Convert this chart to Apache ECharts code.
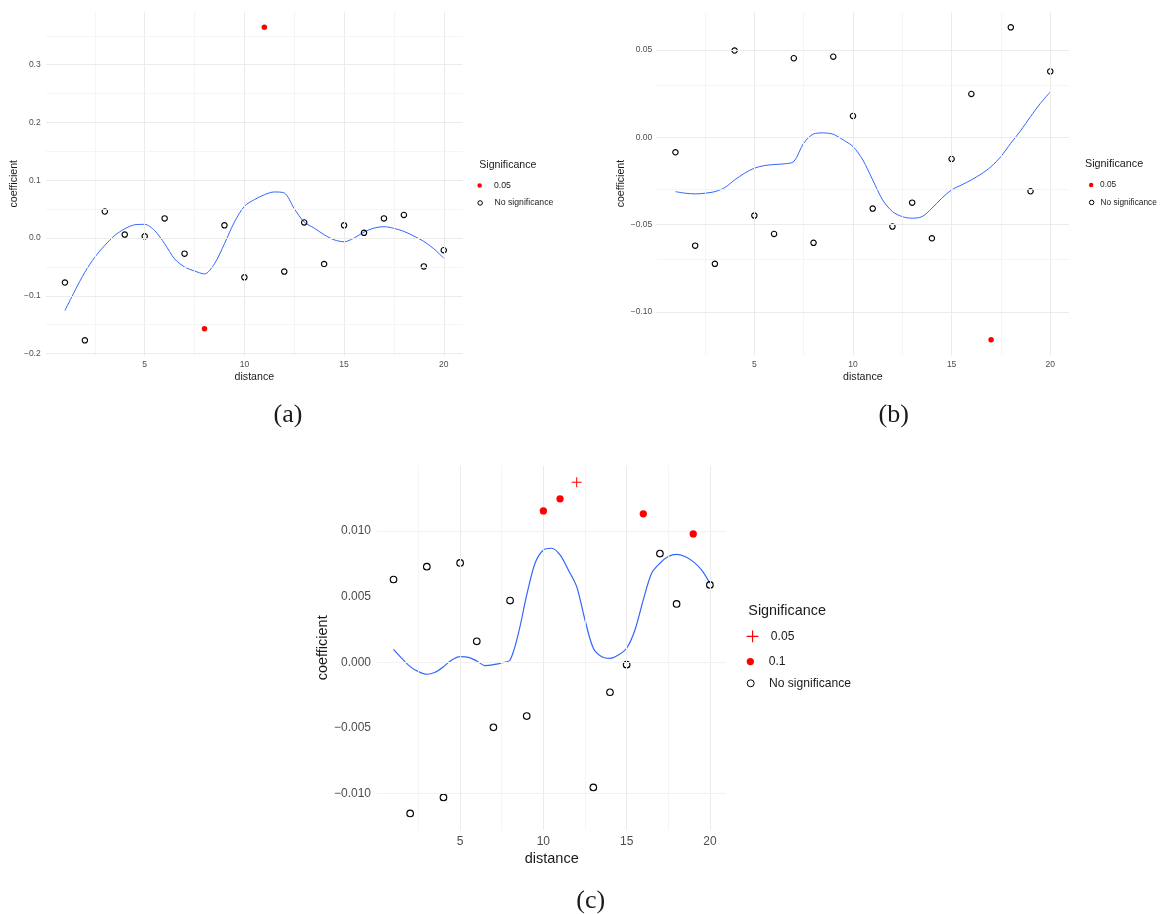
<!DOCTYPE html>
<html>
<head>
<meta charset="utf-8">
<script src="https://cdn.jsdelivr.net/npm/echarts@6/dist/echarts.min.js"></script>
<style>
  html, body { margin: 0; padding: 0; background: #ffffff; }
  #chart { width: 1168px; height: 914px; }
</style>
</head>
<body>
<div id="chart"></div>
<script>
// ---- data -------------------------------------------------------------
const distance = [1, 2, 3, 4, 5, 6, 7, 8, 9, 10, 11, 12, 13, 14, 15, 16, 17, 18, 19, 20];

// panel (a)
const coefA = [-0.077, -0.177, 0.046, 0.006, 0.003, 0.034, -0.027, -0.157, 0.022, -0.068,
               0.365, -0.058, 0.027, -0.045, 0.022, 0.009, 0.034, 0.040, -0.049, -0.021];
const sigA = ['No significance', 'No significance', 'No significance', 'No significance', 'No significance',
              'No significance', 'No significance', '0.05', 'No significance', 'No significance',
              '0.05', 'No significance', 'No significance', 'No significance', 'No significance',
              'No significance', 'No significance', 'No significance', 'No significance', 'No significance'];

// panel (b)
const coefB = [-0.0086, -0.0620, -0.0724, 0.0496, -0.0448, -0.0553, 0.0452, -0.0604, 0.0461, 0.0122,
               -0.0408, -0.0511, -0.0374, -0.0578, -0.0124, 0.0248, -0.1159, 0.0629, -0.0309, 0.0377];
const sigB = ['No significance', 'No significance', 'No significance', 'No significance', 'No significance',
              'No significance', 'No significance', 'No significance', 'No significance', 'No significance',
              'No significance', 'No significance', 'No significance', 'No significance', 'No significance',
              'No significance', '0.05', 'No significance', 'No significance', 'No significance'];

// panel (c)
const coefC = [0.0063, -0.0115, 0.00728, -0.01028, 0.00756, 0.0016, -0.00495, 0.0047, -0.00409, 0.01152,
               0.01244, 0.0137, -0.00952, -0.00228, -0.00018, 0.0113, 0.00827, 0.00444, 0.00977, 0.00589];
const sigC = ['No significance', 'No significance', 'No significance', 'No significance', 'No significance',
              'No significance', 'No significance', 'No significance', 'No significance', '0.1',
              '0.1', '0.05', 'No significance', 'No significance', 'No significance',
              '0.1', 'No significance', 'No significance', '0.1', 'No significance'];

// smoothed trend, evaluated every half unit of distance
const smoothX = [1, 1.5, 2, 2.5, 3, 3.5, 4, 4.5, 5, 5.5, 6, 6.5, 7, 7.5, 8, 8.5, 9, 9.5, 10, 10.5,
                 11, 11.5, 12, 12.5, 13, 13.5, 14, 14.5, 15, 15.5, 16, 16.5, 17, 17.5, 18, 18.5, 19, 19.5, 20];
const smoothA = [-0.1254, -0.091, -0.059, -0.033, -0.0127, 0.0046, 0.016, 0.023, 0.0237, 0.013,
                 -0.0098, -0.036, -0.05, -0.057, -0.062, -0.0445, -0.0098, 0.0277, 0.055, 0.0665,
                 0.075, 0.0798, 0.078, 0.051, 0.0277, 0.0173, 0.0058, -0.003, -0.0064, 0,
                 0.0104, 0.0173, 0.0197, 0.0168, 0.0116, 0.0035, -0.0058, -0.0185, -0.0347];
const smoothB = [-0.0311, -0.032, -0.0324, -0.032, -0.0311, -0.0288, -0.0244, -0.0206, -0.0177, -0.0162,
                 -0.0156, -0.0152, -0.0139, -0.0034, 0.0019, 0.0025, 0.0017, -0.0015, -0.0053, -0.013,
                 -0.0244, -0.0358, -0.0425, -0.0454, -0.0463, -0.0454, -0.0406, -0.0349, -0.0301, -0.0273,
                 -0.0244, -0.021, -0.0168, -0.011, -0.0034, 0.0038, 0.0118, 0.0194, 0.0259];
const smoothC = [0.00099, 0.0003, -0.00033, -0.00071, -0.00091, -0.00076, -0.00033, 0.00018, 0.00043, 0.00038,
                 0.0001, -0.00025, -0.00018, -0.00005, 0.00018, 0.0022, 0.00513, 0.00754, 0.00855, 0.00868,
                 0.00817, 0.00703, 0.00576, 0.00322, 0.00107, 0.00043, 0.0003, 0.00056, 0.00107, 0.00246,
                 0.00475, 0.00678, 0.00754, 0.00805, 0.00822, 0.00805, 0.00766, 0.00703, 0.00602];

// axis breaks
const xTicks = [5, 10, 15, 20];
const xMinor = [2.5, 7.5, 12.5, 17.5];
const yTicksA = [-0.2, -0.1, 0, 0.1, 0.2, 0.3];
const yMinorA = [-0.15, -0.05, 0.05, 0.15, 0.25, 0.35];
const yTicksB = [-0.10, -0.05, 0, 0.05];
const yMinorB = [-0.075, -0.025, 0.025];
const yTicksC = [-0.010, -0.005, 0, 0.005, 0.010];
const yMinorC = [-0.0125, -0.0075, -0.0025, 0.0025, 0.0075, 0.0125];

// ---- helpers ----------------------------------------------------------
const SANS = '"Liberation Sans", Arial, Helvetica, sans-serif';
const SERIF = '"Liberation Serif", "Times New Roman", serif';
const RED = '#ff0000';
const LINE_BLUE = '#3366ff';
const PLUS = 'path://M0,4.5h10v1h-10zM4.5,0h1v10h-1z';

// 5 % padding on each side of the data range
function padded(values) {
  const lo = Math.min(...values), hi = Math.max(...values);
  const pad = (hi - lo) * 0.05;
  return [lo - pad, hi + pad];
}
const minus = (s) => s.replace('-', '\u2212');

function gridLines(idx, yMajor, yMinor) {
  const major = { color: '#ebebeb', width: 1, type: 'solid' };
  const minor = { color: '#f2f2f2', width: 0.8, type: 'solid' };
  const data = [];
  xTicks.forEach(v => data.push({ xAxis: v, lineStyle: major }));
  xMinor.forEach(v => data.push({ xAxis: v, lineStyle: minor }));
  yMajor.forEach(v => data.push({ yAxis: v, lineStyle: major }));
  yMinor.forEach(v => data.push({ yAxis: v, lineStyle: minor }));
  return {
    type: 'line', xAxisIndex: idx, yAxisIndex: idx, data: [], z: 0,
    silent: true, legendHoverLink: false,
    markLine: { silent: true, symbol: ['none', 'none'], label: { show: false }, animation: false, data }
  };
}

function points(coef, sig, level) {
  const out = [];
  coef.forEach((c, i) => { if (sig[i] === level) out.push([distance[i], c]); });
  return out;
}

function trend(idx, ys, width) {
  return {
    type: 'line', xAxisIndex: idx, yAxisIndex: idx,
    data: smoothX.map((x, i) => [x, ys[i]]),
    showSymbol: false, smooth: 0.3, silent: true, z: 3,
    lineStyle: { color: LINE_BLUE, width }
  };
}

function openPts(idx, coef, sig, size) {
  return {
    type: 'scatter', name: 'No significance', xAxisIndex: idx, yAxisIndex: idx,
    data: points(coef, sig, 'No significance'), symbol: 'circle', symbolSize: size, z: 4,
    silent: true,
    itemStyle: { color: 'rgba(255,255,255,0)', borderColor: '#000000', borderWidth: 1.1, opacity: 1 }
  };
}

function redPts(idx, coef, sig, level, size, symbol) {
  return {
    type: 'scatter', name: level, xAxisIndex: idx, yAxisIndex: idx,
    data: points(coef, sig, level), symbol: symbol || 'circle', symbolSize: size, z: 5,
    silent: true,
    itemStyle: { color: RED, opacity: 1 }
  };
}

function xAxis(idx, fs, nameFs, margin, nameGap) {
  const r = padded(distance);
  return {
    gridIndex: idx, type: 'value', min: r[0], max: r[1],
    axisLine: { show: false }, axisTick: { show: false }, splitLine: { show: false },
    axisLabel: { customValues: xTicks, fontFamily: SANS, fontSize: fs, color: '#4d4d4d', margin },
    name: 'distance', nameLocation: 'middle', nameGap,
    nameTextStyle: { fontFamily: SANS, fontSize: nameFs, color: '#1a1a1a' }
  };
}

function yAxis(idx, values, ticks, digits, fs, nameFs, margin, nameGap) {
  const r = padded(values);
  return {
    gridIndex: idx, type: 'value', min: r[0], max: r[1],
    axisLine: { show: false }, axisTick: { show: false }, splitLine: { show: false },
    axisLabel: {
      customValues: ticks, fontFamily: SANS, fontSize: fs, color: '#4d4d4d', margin,
      formatter: (v) => minus(Number(v).toFixed(digits))
    },
    name: 'coefficient', nameLocation: 'middle', nameGap,
    nameTextStyle: { fontFamily: SANS, fontSize: nameFs, color: '#1a1a1a' }
  };
}

function legendItem(name, icon, itemStyle, left, cy, w, h, fs) {
  return {
    show: true, orient: 'vertical', selectedMode: false, padding: 0,
    left, top: cy - h / 2, itemWidth: w, itemHeight: h,
    textStyle: { fontFamily: SANS, fontSize: fs, color: '#1a1a1a', lineHeight: h },
    data: [{ name, icon, itemStyle }]
  };
}

function label(text, x, y, font, align) {
  return {
    type: 'text', x, y, silent: true,
    style: { text, font, fill: '#1a1a1a', textAlign: align || 'left', textVerticalAlign: 'middle' }
  };
}

const openStyle = { color: 'rgba(255,255,255,0)', borderColor: '#000000', borderWidth: 1, opacity: 1 };
const redStyle = { color: RED, borderWidth: 0, opacity: 1 };

// ---- chart ------------------------------------------------------------
const chart = echarts.init(document.getElementById('chart'), null, { renderer: 'canvas' });

chart.setOption({
  animation: false,
  backgroundColor: '#ffffff',
  grid: [
    { left: 46, top: 11.5, width: 416.7, height: 344.5 },
    { left: 656.7, top: 11.7, width: 412.3, height: 343.8 },
    { left: 377.7, top: 465.7, width: 348, height: 364.3 }
  ],
  xAxis: [
    xAxis(0, 8.5, 10.6, 4.5, 16),
    xAxis(1, 8.5, 10.6, 4.5, 16),
    xAxis(2, 12, 14.5, 5.7, 21)
  ],
  yAxis: [
    yAxis(0, coefA.concat(smoothA), yTicksA, 1, 8.5, 10.6, 5.3, 24),
    yAxis(1, coefB.concat(smoothB), yTicksB, 2, 8.5, 10.6, 4.4, 29.7),
    yAxis(2, coefC.concat(smoothC), yTicksC, 3, 12, 14.5, 6.7, 47.7)
  ],
  legend: [
    legendItem('0.05', 'circle', redStyle, 477.4, 183.3, 18.6, 4.5, 8.7),
    legendItem('No significance', 'circle', openStyle, 477.4, 200.7, 18.6, 4.5, 8.7),
    legendItem('0.05', 'circle', redStyle, 1088.9, 183.3, 7.8, 4.5, 8.3),
    legendItem('No significance', 'circle', openStyle, 1088.9, 200.7, 7.8, 4.5, 8.3),
    legendItem('0.05', PLUS, redStyle, 746.7, 636.2, 26.6, 11.7, 12.1),
    legendItem('0.1', 'circle', redStyle, 746.7, 659.2, 26.6, 7.3, 12.1),
    legendItem('No significance', 'circle', openStyle, 746.7, 680.8, 26.6, 7, 12.1)
  ],
  graphic: [
    label('Significance', 479.3, 165, '10.6px ' + SANS),
    label('Significance', 1085, 164.3, '10.8px ' + SANS),
    label('Significance', 748.3, 610.7, '14.4px ' + SANS),
    label('(a)', 288, 415.5, '26px ' + SERIF, 'center'),
    label('(b)', 893.7, 415.5, '26px ' + SERIF, 'center'),
    label('(c)', 590.8, 901, '26px ' + SERIF, 'center')
  ],
  series: [
    gridLines(0, yTicksA, yMinorA),
    gridLines(1, yTicksB, yMinorB),
    gridLines(2, yTicksC, yMinorC),
    trend(0, smoothA, 1),
    trend(1, smoothB, 1),
    trend(2, smoothC, 1.2),
    openPts(0, coefA, sigA, 5.4),
    redPts(0, coefA, sigA, '0.05', 5.5),
    openPts(1, coefB, sigB, 5.4),
    redPts(1, coefB, sigB, '0.05', 5.5),
    openPts(2, coefC, sigC, 6.6),
    redPts(2, coefC, sigC, '0.1', 7.3),
    redPts(2, coefC, sigC, '0.05', 10, PLUS)
  ]
});
</script>
</body>
</html>
